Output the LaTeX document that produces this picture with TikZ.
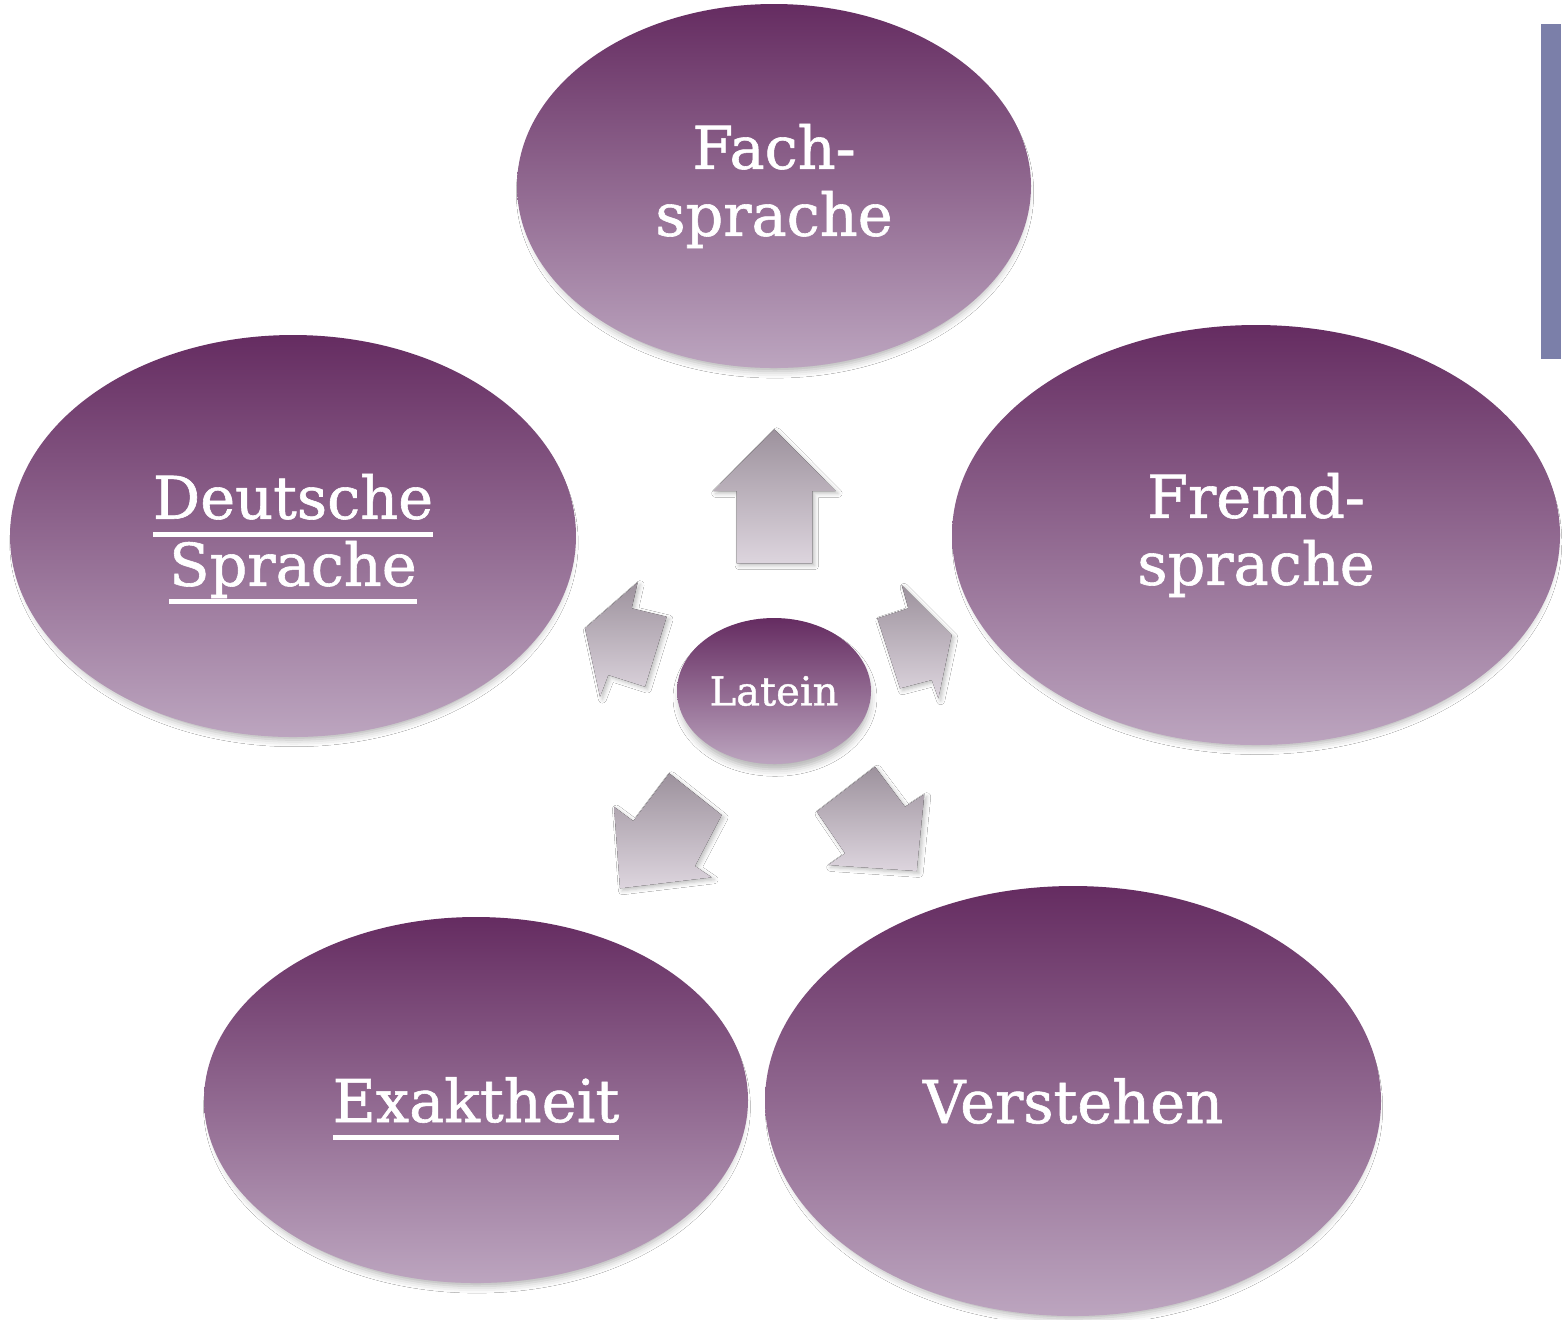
\documentclass[tikz,border=0pt]{standalone}
\usepackage{fontspec}
\setmainfont{DejaVu Serif}[FakeBold=1]
\usetikzlibrary{shapes.geometric,shadows.blur}
\definecolor{plumtop}{HTML}{652C61}
\definecolor{plumbot}{HTML}{BCA5BF}
\definecolor{arrtop}{HTML}{9D929D}
\definecolor{arrbot}{HTML}{DDD5DE}
\definecolor{barcol}{HTML}{7B7FA9}
\newcommand\myul[1]{\setbox0\hbox{#1}\rlap{\smash{\rule[-9pt]{\wd0}{2.5pt}}}\box0}
\begin{document}
\begin{tikzpicture}[x=0.5pt,y=-0.5pt,
  bubble/.style={ellipse, inner sep=0pt, top color=plumtop, bottom color=plumbot,
    text=white, align=center, font=\fontsize{29.5}{33.5}\selectfont,
    blur shadow={shadow xshift=0.5pt, shadow yshift=-3.5pt, shadow scale=0.98, shadow blur radius=3.5pt, shadow opacity=30}},
  arrowshape/.style={top color=arrtop, bottom color=arrbot,
    blur shadow={shadow xshift=1.2pt, shadow yshift=-1.2pt, shadow blur radius=2pt, shadow opacity=25}}
]
\fill[white] (0,0) rectangle (1566,1319);
\useasboundingbox (0,0) rectangle (1566,1319);

% side bar
\fill[barcol] (1541,24) rectangle (1561,359);

% bubbles
\node[bubble, minimum width=257pt, minimum height=182pt] (fach) at (774,186) {Fach-\\sprache};
\node[bubble, minimum width=283pt, minimum height=201pt] (deutsch) at (293,536) {\myul{Deutsche}\\\myul{Sprache}};
\node[bubble, minimum width=304pt, minimum height=210pt] (fremd) at (1256,535) {Fremd-\\sprache};
\node[bubble, minimum width=272pt, minimum height=183pt] (exakt) at (476,1100) {\myul{Exaktheit}};
\node[bubble, minimum width=308pt, minimum height=215pt] (verstehen) at (1073,1101) {Verstehen};
\node[bubble, minimum width=97pt, minimum height=73pt, font=\fontsize{20}{24}\selectfont] (latein) at (774,691) {Latein};

% arrows
\fill[arrowshape] (774.3,429.3) -- (835.7,491) -- (812.3,491) -- (812.3,563.3) -- (736.7,563.3) -- (736.7,491) -- (713.3,491) -- cycle;
\fill[arrowshape] (585,628.3) -- (637.7,582.3) -- (631.7,608.3) -- (666.7,616.7) -- (645,686.7) -- (608.3,675) -- (600,696.7) -- cycle;
\fill[arrowshape] (951.7,635) -- (901.7,585) -- (908.3,608.3) -- (877.3,618.3) -- (900,688.3) -- (931.7,680) -- (938.3,698.3) -- cycle;
\fill[arrowshape] (620,888.3) -- (614,806.7) -- (633.3,821) -- (669.3,773.3) -- (721.7,815) -- (695,866) -- (711.7,877.3) -- cycle;
\fill[arrowshape] (916.7,871) -- (924.3,794.3) -- (905,806.7) -- (875,766.7) -- (816.7,811.7) -- (845,853.3) -- (828.3,865) -- cycle;
\end{tikzpicture}
\end{document}
